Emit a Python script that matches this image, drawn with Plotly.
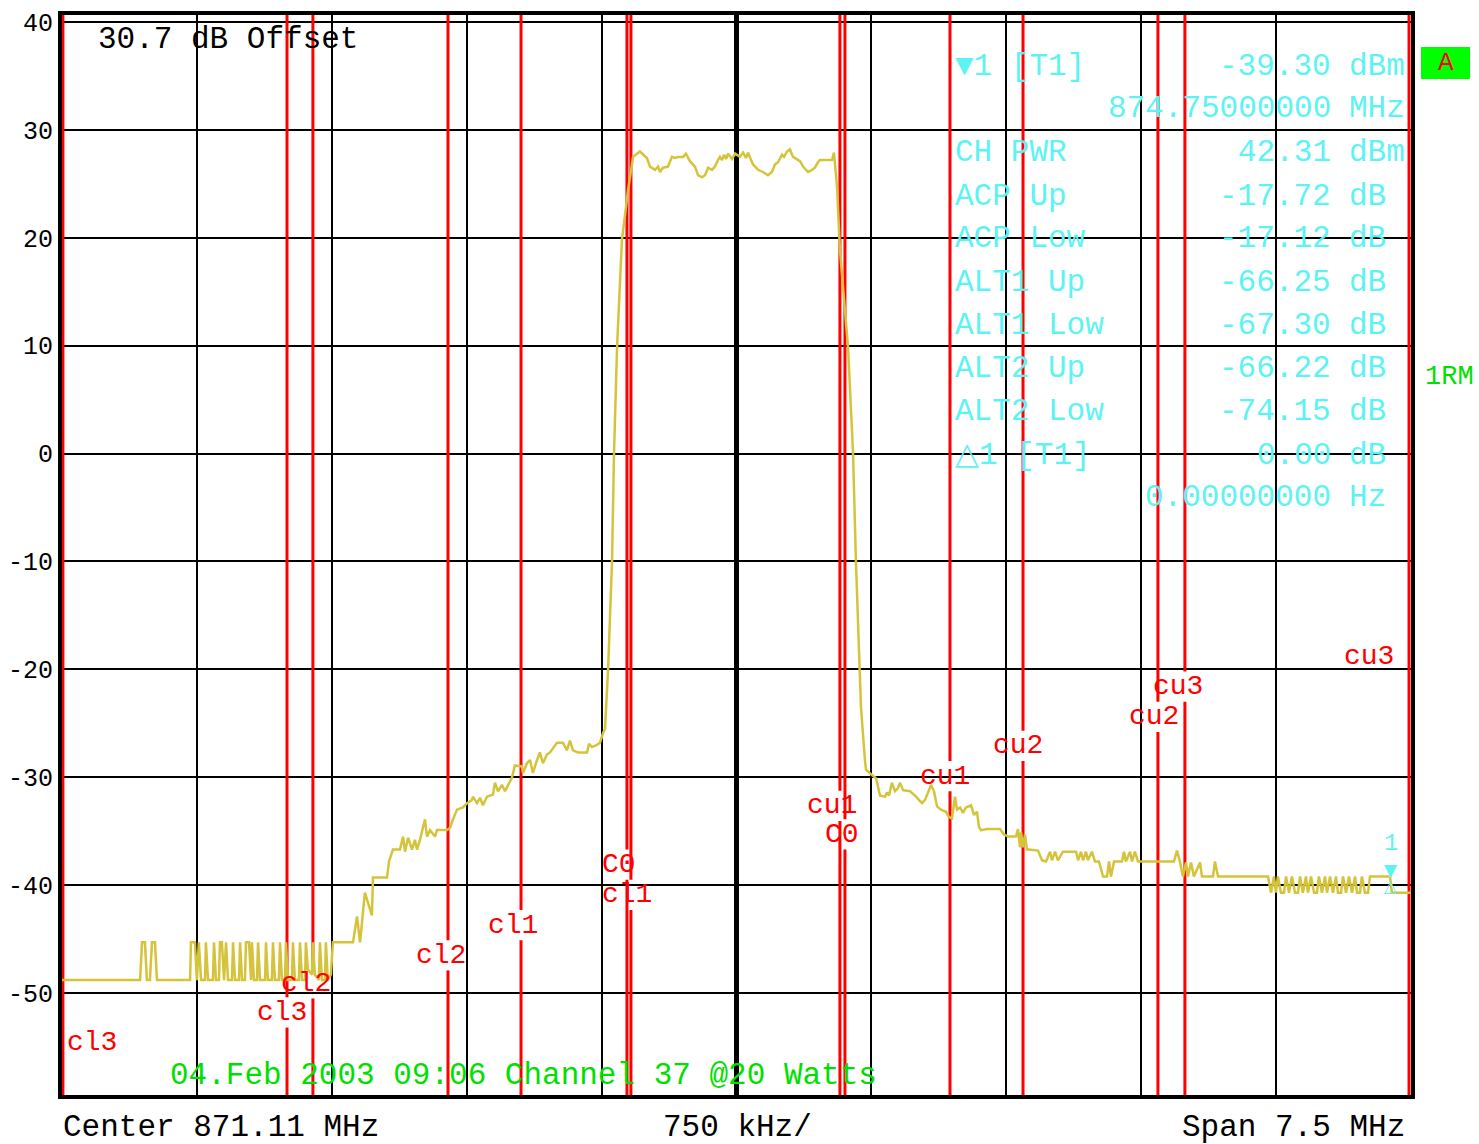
import plotly.graph_objects as go

# ---------------- data (frequency offsets from centre in MHz, levels in dBm) ----------------
CENTER_MHZ = 871.11
SPAN_MHZ = 7.5

floor_lo_freq = [-3.750, -3.316, -3.305, -3.289, -3.278, -3.261, -3.250, -3.233, -3.222, -3.038,
                 -3.033, -3.011, -3.000, -2.989, -2.977, -2.955, -2.950, -2.938, -2.911, -2.905,
                 -2.894, -2.877, -2.872, -2.861, -2.849, -2.838, -2.827, -2.805, -2.799, -2.788,
                 -2.766, -2.760, -2.749, -2.733, -2.727, -2.710, -2.699, -2.694, -2.683, -2.666,
                 -2.660, -2.649, -2.621, -2.616, -2.605, -2.583, -2.577, -2.566, -2.544, -2.538,
                 -2.527, -2.510, -2.505, -2.494, -2.472, -2.466, -2.455, -2.433, -2.427, -2.416,
                 -2.399, -2.394, -2.383, -2.360, -2.355, -2.344, -2.322, -2.316, -2.305, -2.288,
                 -2.283, -2.272, -2.255, -2.244]
floor_lo_dbm = [-48.8, -48.8, -45.3, -45.3, -48.8, -48.8, -45.3, -45.3, -48.8, -48.8,
                -45.3, -45.3, -48.8, -45.3, -48.8, -48.8, -45.3, -48.8, -48.8, -45.3,
                -48.8, -48.8, -45.3, -45.3, -48.8, -45.3, -48.8, -48.8, -45.3, -48.8,
                -48.8, -45.3, -48.8, -48.8, -45.3, -45.3, -48.8, -45.3, -48.8, -48.8,
                -45.3, -48.8, -48.8, -45.3, -48.8, -48.8, -45.3, -48.8, -48.8, -45.3,
                -48.8, -48.8, -45.3, -48.8, -48.8, -45.3, -48.8, -48.8, -45.3, -48.8,
                -48.8, -45.3, -47.8, -48.3, -45.3, -48.3, -48.8, -45.3, -48.8, -48.8,
                -45.3, -48.8, -48.3, -45.3]

skirt_lo_freq = [-2.132, -2.110, -2.093, -2.066, -2.027, -2.021, -1.943, -1.932, -1.910, -1.871,
                 -1.854, -1.843, -1.826, -1.804, -1.788, -1.776, -1.760, -1.732, -1.721, -1.704,
                 -1.676, -1.665, -1.610, -1.593, -1.576, -1.554, -1.521, -1.498, -1.471, -1.465,
                 -1.443, -1.426, -1.410, -1.387, -1.354, -1.343, -1.326, -1.304, -1.287, -1.271,
                 -1.248, -1.232, -1.193, -1.187, -1.165, -1.148, -1.132, -1.109, -1.093, -1.076,
                 -1.054, -1.037, -1.020, -0.998, -0.965, -0.943, -0.926, -0.909, -0.881, -0.831,
                 -0.820, -0.803, -0.776, -0.759, -0.742, -0.731, -0.714, -0.692, -0.681, -0.664,
                 -0.637, -0.603]
skirt_lo_dbm = [-45.3, -42.9, -45.3, -40.7, -42.8, -39.3, -39.3, -37.8, -36.7, -36.7,
                -35.5, -36.9, -35.6, -36.7, -35.8, -36.7, -35.8, -33.9, -35.5, -34.9,
                -35.5, -34.9, -34.9, -34.7, -33.9, -33.0, -32.8, -32.4, -32.1, -31.8,
                -32.4, -31.9, -32.6, -31.8, -31.6, -30.5, -31.3, -30.7, -31.3, -30.7,
                -30.0, -28.9, -29.0, -29.6, -28.7, -28.4, -29.6, -28.4, -27.7, -28.7,
                -27.9, -27.7, -27.3, -26.8, -26.8, -27.5, -26.6, -27.5, -27.7, -27.7,
                -26.9, -27.2, -27.0, -26.8, -25.9, -25.5, -20.0, -10.0, 0.0, 9.9,
                19.8, 24.4]

carrier_freq = [-0.575, -0.537, -0.498, -0.481, -0.453, -0.436, -0.425, -0.409, -0.381, -0.359,
                -0.342, -0.325, -0.297, -0.281, -0.259, -0.231, -0.214, -0.192, -0.175, -0.158,
                -0.136, -0.120, -0.103, -0.092, -0.081, -0.069, -0.058, -0.047, -0.025, -0.008,
                0.019, 0.036, 0.053, 0.064, 0.081, 0.092, 0.120, 0.147, 0.175, 0.197,
                0.214, 0.231, 0.253, 0.264, 0.281, 0.297, 0.314, 0.336, 0.353, 0.370,
                0.398, 0.420, 0.436, 0.453, 0.464, 0.531, 0.542]
carrier_dbm = [27.5, 28.0, 27.4, 26.6, 26.3, 26.6, 26.1, 26.5, 26.6, 27.5,
               27.4, 27.5, 27.5, 27.8, 27.1, 26.6, 25.8, 25.6, 25.8, 26.5,
               26.3, 26.6, 27.2, 27.5, 27.2, 27.7, 27.3, 27.8, 27.3, 27.8,
               27.5, 27.9, 27.4, 27.9, 27.2, 26.8, 26.3, 26.1, 25.8, 26.1,
               26.8, 27.0, 27.7, 27.5, 28.0, 28.2, 27.5, 27.3, 27.1, 26.6,
               26.1, 26.3, 26.5, 27.0, 27.2, 27.2, 27.9]

skirt_hi_freq = [0.559, 0.575, 0.620, 0.648, 0.664, 0.687, 0.692, 0.714, 0.720, 0.753,
                 0.776, 0.787, 0.798, 0.826, 0.837, 0.848, 0.864, 0.881, 0.898, 0.909,
                 0.926, 0.965, 0.998, 1.031, 1.048, 1.070, 1.081, 1.098, 1.115, 1.137,
                 1.165, 1.182, 1.198, 1.215, 1.226, 1.243, 1.259, 1.276, 1.304, 1.321,
                 1.337, 1.348, 1.359, 1.393, 1.465, 1.487, 1.510, 1.554, 1.565, 1.576,
                 1.582, 1.593, 1.604, 1.615, 1.626, 1.676, 1.699, 1.721, 1.743, 1.754,
                 1.771, 1.787, 1.815, 1.888, 1.899, 1.915, 1.927, 1.943, 1.954, 1.976,
                 1.993, 2.015, 2.038, 2.060, 2.071, 2.082, 2.099, 2.143, 2.154, 2.165,
                 2.188, 2.199, 2.215, 2.232, 2.432, 2.449, 2.465, 2.482, 2.499, 2.510,
                 2.527, 2.543, 2.577, 2.588, 2.649, 2.660, 2.677]
skirt_hi_dbm = [24.7, 18.9, 9.9, 0.0, -10.0, -20.0, -23.5, -28.4, -29.3, -29.8,
                -30.1, -30.9, -31.7, -31.8, -31.4, -31.7, -30.5, -31.3, -31.0, -30.5,
                -31.2, -31.3, -31.8, -32.4, -32.1, -31.2, -30.7, -31.3, -32.7, -33.0,
                -33.2, -33.7, -33.8, -31.8, -33.0, -32.8, -33.3, -32.8, -32.6, -33.5,
                -33.2, -34.6, -34.9, -34.8, -34.8, -35.3, -35.5, -35.5, -34.8, -36.5,
                -35.1, -36.5, -35.3, -36.7, -36.7, -36.8, -37.7, -37.8, -36.9, -37.7,
                -36.9, -37.7, -36.9, -36.9, -37.7, -36.9, -37.7, -36.9, -37.7, -36.9,
                -37.8, -37.8, -39.2, -39.2, -37.8, -39.2, -37.8, -37.8, -36.9, -37.8,
                -36.9, -37.8, -36.9, -37.8, -37.8, -36.8, -37.8, -39.2, -37.9, -39.2,
                -37.9, -39.2, -37.9, -39.2, -39.2, -37.8, -39.2]

floor_hi_freq = [2.955, 2.972, 2.988, 2.999, 3.010, 3.027, 3.044, 3.055, 3.072, 3.088,
                 3.105, 3.122, 3.133, 3.149, 3.166, 3.177, 3.194, 3.211, 3.227, 3.238,
                 3.255, 3.272, 3.283, 3.300, 3.316, 3.333, 3.344, 3.361, 3.372, 3.389,
                 3.405, 3.422, 3.439, 3.450, 3.466, 3.477, 3.494, 3.511, 3.522, 3.633,
                 3.644, 3.750]
floor_hi_dbm = [-39.2, -40.7, -39.2, -40.7, -39.2, -40.7, -40.7, -39.2, -40.7, -39.2,
                -40.7, -40.7, -39.2, -40.7, -39.2, -40.7, -39.2, -40.7, -40.7, -39.2,
                -40.7, -39.2, -40.7, -39.2, -40.7, -39.2, -40.7, -40.7, -39.2, -40.7,
                -39.2, -40.7, -39.2, -40.7, -40.7, -39.2, -40.7, -40.7, -39.2, -39.2,
                -40.7, -40.7]

# channel limit lines (offset MHz) and their labels
channel_edge_mhz = [-3.745, -2.499, -2.355, -1.604, -1.198, -0.609, -0.587,
                    0.575, 0.603, 1.187, 1.593, 2.343, 2.493, 3.739]
channel_label = ["cl3", "cl3", "cl2", "cl2", "cl1", "C0", "cl1",
                 "cu1", "C0", "cu1", "cu2", "cu2", "cu3", "cu3"]
label_freq_mhz = [-3.583, -2.527, -2.394, -1.643, -1.243, -0.653, -0.609,
                  0.531, 0.587, 1.159, 1.565, 2.321, 2.455, 3.517]
label_level_dbm = [-54.6, -51.8, -49.1, -46.5, -43.7, -38.1, -40.9,
                   -32.65, -35.3, -29.9, -27.1, -24.4, -21.6, -18.8]

# marker
marker_freq_mhz = 874.75 - CENTER_MHZ
marker_level_dbm = -39.30

# readout panel
panel_labels = ["▼1 [T1]", "", "CH PWR", "ACP Up", "ACP Low", "ALT1 Up", "ALT1 Low",
                "ALT2 Up", "ALT2 Low", "△1 [T1]", ""]
panel_values = ["-39.30", "874.75000000", "42.31", "-17.72", "-17.12", "-66.25", "-67.30",
                "-66.22", "-74.15", "0.00", "0.00000000"]
panel_units = ["dBm", "MHz", "dBm", "dB", "dB", "dB", "dB", "dB", "dB", "dB", "Hz"]

y_ticks = [40, 30, 20, 10, 0, -10, -20, -30, -40, -50]

# ---------------- layout helpers (pixel -> paper) ----------------
W, H = 1479, 1144
L, R, T, B = 62, 1411, 15, 1095


def px(x):
    return (x - L) / (R - L)


def py(y):
    return (B - y) / (B - T)


MONO = "Liberation Mono"
TRACE_COLOR = "#d5c43b"
CYAN = "#5ef3f3"
GREEN = "#00e000"

freq = floor_lo_freq + skirt_lo_freq + carrier_freq + skirt_hi_freq + floor_hi_freq
level = floor_lo_dbm + skirt_lo_dbm + carrier_dbm + skirt_hi_dbm + floor_hi_dbm

fig = go.Figure()
fig.add_trace(go.Scatter(x=freq, y=level, mode="lines",
                         line=dict(color=TRACE_COLOR, width=2.5), hoverinfo="skip",
                         showlegend=False))

shapes = []
annotations = []

# red channel lines with gaps under their labels
GAP = 1.4
for edge, lf, ll in zip(channel_edge_mhz, label_freq_mhz, label_level_dbm):
    if abs(lf - edge) < 0.1:
        segs = [(-70, ll - GAP), (ll + GAP, 50)]
    else:
        segs = [(-70, 50)]
    for y0, y1 in segs:
        shapes.append(dict(type="line", xref="x", yref="y", x0=edge, x1=edge, y0=y0, y1=y1,
                           line=dict(color="#ff0000", width=3), layer="between"))

for txt, lf, ll in zip(channel_label, label_freq_mhz, label_level_dbm):
    annotations.append(dict(x=lf, y=ll, xref="x", yref="y", text=txt, showarrow=False,
                            font=dict(family=MONO, size=28, color="#ff0000"),
                            xanchor="center", yanchor="middle"))

# marker symbols
annotations.append(dict(x=marker_freq_mhz, y=marker_level_dbm, xref="x", yref="y", text="▼",
                        showarrow=False, font=dict(family="DejaVu Sans", size=17, color=CYAN),
                        xanchor="center", yanchor="bottom", yshift=-4))
annotations.append(dict(x=marker_freq_mhz, y=marker_level_dbm, xref="x", yref="y", text="△",
                        showarrow=False, font=dict(family="DejaVu Sans", size=17, color=CYAN),
                        xanchor="center", yanchor="top", yshift=4))
annotations.append(dict(x=marker_freq_mhz, y=marker_level_dbm, xref="x", yref="y", text="1",
                        showarrow=False, font=dict(family=MONO, size=24, color=CYAN),
                        xanchor="center", yanchor="bottom", yshift=19))

# readout panel
row_y = [66, 109, 152, 196, 239, 282, 325, 368, 411, 455, 498]
for lab, val, unit, yy in zip(panel_labels, panel_values, panel_units, row_y):
    if lab:
        annotations.append(dict(x=px(953), y=py(yy), xref="paper", yref="paper", text=lab,
                                showarrow=False, font=dict(family=MONO, size=31, color=CYAN),
                                xanchor="left", yanchor="middle"))
    annotations.append(dict(x=px(1333), y=py(yy), xref="paper", yref="paper", text=val,
                            showarrow=False, font=dict(family=MONO, size=31, color=CYAN),
                            xanchor="right", yanchor="middle"))
    annotations.append(dict(x=px(1347), y=py(yy), xref="paper", yref="paper", text=unit,
                            showarrow=False, font=dict(family=MONO, size=31, color=CYAN),
                            xanchor="left", yanchor="middle"))

# top / bottom texts
annotations += [
    dict(x=px(96), y=py(39), xref="paper", yref="paper", text="30.7 dB Offset",
         showarrow=False, font=dict(family=MONO, size=31, color="black"),
         xanchor="left", yanchor="middle"),
    dict(x=px(168), y=py(1075), xref="paper", yref="paper",
         text="04.Feb 2003 09:06 Channel 37 @20 Watts",
         showarrow=False, font=dict(family=MONO, size=31, color=GREEN),
         xanchor="left", yanchor="middle"),
    dict(x=px(61), y=py(1127), xref="paper", yref="paper", text="Center 871.11 MHz",
         showarrow=False, font=dict(family=MONO, size=31, color="black"),
         xanchor="left", yanchor="middle"),
    dict(x=px(737), y=py(1127), xref="paper", yref="paper", text="750 kHz/",
         showarrow=False, font=dict(family=MONO, size=31, color="black"),
         xanchor="center", yanchor="middle"),
    dict(x=px(1407), y=py(1127), xref="paper", yref="paper", text="Span 7.5 MHz",
         showarrow=False, font=dict(family=MONO, size=31, color="black"),
         xanchor="right", yanchor="middle"),
    dict(x=px(1449), y=py(377), xref="paper", yref="paper", text="1RM",
         showarrow=False, font=dict(family=MONO, size=27, color=GREEN),
         xanchor="center", yanchor="middle"),
    dict(x=px(1446), y=py(63), xref="paper", yref="paper", text="A",
         showarrow=False, font=dict(family=MONO, size=26, color="#ff0000"),
         xanchor="center", yanchor="middle"),
]

shapes.append(dict(type="rect", xref="paper", yref="paper", x0=px(1421), x1=px(1470),
                   y0=py(79), y1=py(47), fillcolor="#00ff00", line=dict(width=0)))

fig.update_layout(
    width=W, height=H, autosize=False,
    margin=dict(l=L, r=W - R, t=T, b=H - B, pad=0, autoexpand=False),
    paper_bgcolor="white", plot_bgcolor="white",
    shapes=shapes, annotations=annotations, showlegend=False,
    xaxis=dict(range=[-SPAN_MHZ / 2, SPAN_MHZ / 2], tick0=0, dtick=SPAN_MHZ / 10,
               showgrid=True, gridcolor="black", gridwidth=2, automargin=False,
               zeroline=True, zerolinecolor="black", zerolinewidth=5,
               showticklabels=False, ticks="",
               showline=True, mirror=True, linecolor="black", linewidth=4),
    yaxis=dict(range=[-59.45, 40.65], tickmode="array", tickvals=y_ticks,
               ticktext=[str(v) for v in y_ticks], automargin=False,
               showgrid=True, gridcolor="black", gridwidth=2, zeroline=False,
               ticks="", tickfont=dict(family=MONO, size=25, color="black"),
               ticklabelstandoff=0,
               showline=True, mirror=True, linecolor="black", linewidth=4),
)

fig.write_html("out.html", config={"displayModeBar": False},
               post_script="document.body.style.margin='0';document.body.style.overflow='hidden';")
